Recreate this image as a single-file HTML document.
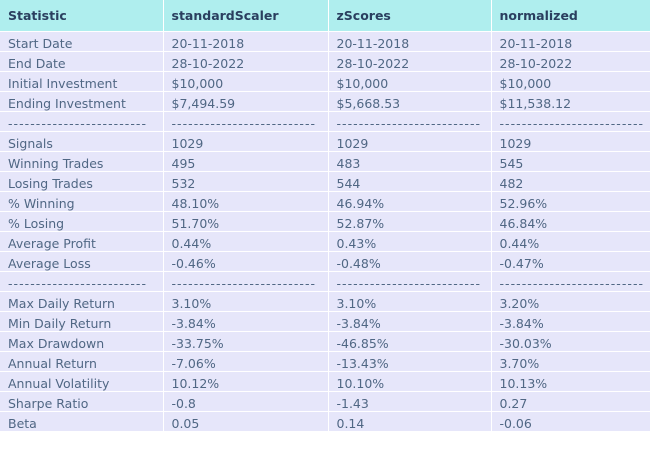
<!DOCTYPE html>
<html><head><meta charset="utf-8"><style>
body{margin:0;width:650px;height:450px;background:#fff;overflow:hidden;font-family:"DejaVu Sans","Liberation Sans",sans-serif;}
table{position:absolute;left:0;top:0;border-collapse:collapse;table-layout:fixed;width:651px;}
td,th{border:1px solid #fff;padding:0 0 0 8px;text-align:left;white-space:nowrap;overflow:hidden;}
th{background:#afeeee;color:#2a3f5f;font-weight:bold;font-size:12.5px;height:31px;}
td{background:#e6e6fa;color:#506784;font-size:12.5px;height:16px;padding-top:3px;}
td.dash{letter-spacing:1.05px;}
tr:first-child th{border-top:0}
th:first-child,td:first-child{border-left:0}
</style></head><body>
<table>
<colgroup><col style="width:163px"><col style="width:165px"><col style="width:163px"><col style="width:160px"></colgroup>
<thead><tr><th>Statistic</th><th>standardScaler</th><th>zScores</th><th>normalized</th></tr></thead>
<tbody id="tb"></tbody>
</table>
<script>
const statNames=["Start Date","End Date","Initial Investment","Ending Investment","-------------------------","Signals","Winning Trades","Losing Trades","% Winning","% Losing","Average Profit","Average Loss","-------------------------","Max Daily Return","Min Daily Return","Max Drawdown","Annual Return","Annual Volatility","Sharpe Ratio","Beta"];
const dash="--------------------------";
const standardScaler=["20-11-2018","28-10-2022","$10,000","$7,494.59",dash,"1029","495","532","48.10%","51.70%","0.44%","-0.46%",dash,"3.10%","-3.84%","-33.75%","-7.06%","10.12%","-0.8","0.05"];
const zScores=["20-11-2018","28-10-2022","$10,000","$5,668.53",dash,"1029","483","544","46.94%","52.87%","0.43%","-0.48%",dash,"3.10%","-3.84%","-46.85%","-13.43%","10.10%","-1.43","0.14"];
const normalized=["20-11-2018","28-10-2022","$10,000","$11,538.12",dash,"1029","545","482","52.96%","46.84%","0.44%","-0.47%",dash,"3.20%","-3.84%","-30.03%","3.70%","10.13%","0.27","-0.06"];
const tb=document.getElementById('tb');
statNames.forEach((s,i)=>{
  const tr=document.createElement('tr');
  
  
  [s,standardScaler[i],zScores[i],normalized[i]].forEach(v=>{
    const td=document.createElement('td');
    
    
    if(/^-{5,}$/.test(v)) td.className='dash';
    td.textContent=v;tr.appendChild(td);
  });
  tb.appendChild(tr);
});
</script>
</body></html>
